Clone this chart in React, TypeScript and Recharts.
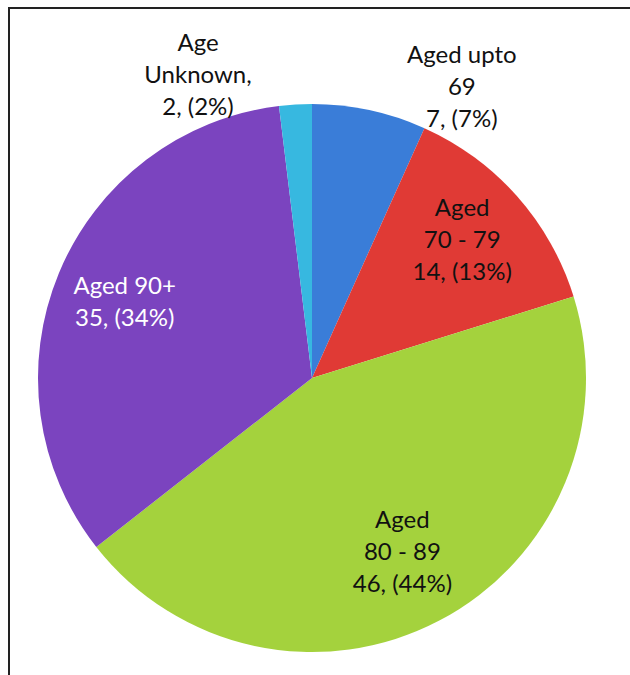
import { PieChart, Pie, Cell } from 'recharts';

const categories = ['Aged upto 69', 'Aged 70 - 79', 'Aged 80 - 89', 'Aged 90+', 'Age Unknown'];
const values = [7, 14, 46, 35, 2];
// label text broken into lines the way the original chart wraps them
const labelLines = [['Aged upto', '69'], ['Aged', '70 - 79'], ['Aged', '80 - 89'], ['Aged 90+'], ['Age', 'Unknown,']];
const colors = ['#3a7dd8', '#e03a35', '#a4d23d', '#7b44bf', '#37b8e0'];
const labelColors = ['#111', '#111', '#111', '#fff', '#111'];

// label placement: fraction of outer radius + angle nudge (deg, clockwise)
const labelRadius = [1.2, 0.75, 0.71, 0.74, 1.19];
const labelNudge = [15, -1.5, 0, 0, -17];

const total = values.reduce((a, b) => a + b, 0);
const data = categories.map((name, i) => ({ name, value: values[i] }));

const RAD = Math.PI / 180;

const renderLabel = (props: any) => {
  const { cx, cy, midAngle, outerRadius, index, value } = props;
  const r = outerRadius * labelRadius[index];
  const angle = midAngle - labelNudge[index];
  const x = cx + r * Math.cos(-angle * RAD);
  const y = cy + r * Math.sin(-angle * RAD);
  const lines = [...labelLines[index], `${value}, (${Math.round((value / total) * 100)}%)`];
  const lh = 32;
  const top = y - ((lines.length - 1) * lh) / 2;
  return (
    <text
      x={x}
      y={top}
      fill={labelColors[index]}
      textAnchor="middle"
      dominantBaseline="central"
      style={{ fontFamily: 'Lato, sans-serif', fontSize: 24 }}
    >
      {lines.map((l, k) => (
        <tspan key={k} x={x} y={top + k * lh}>{l}</tspan>
      ))}
    </text>
  );
};

export default function App() {
  return (
    <>
      <style>{'html,body{margin:0;padding:0;overflow:hidden;background:#fff}'}</style>
      <div
        style={{
          position: 'absolute',
          left: 8,
          top: 7,
          width: 640,
          height: 700,
          borderTop: '2px solid #222',
          borderLeft: '2px solid #222',
        }}
      >
        <PieChart width={620} height={666} margin={{ top: 0, right: 0, bottom: 0, left: 0 }}>
          <Pie
            data={data}
            dataKey="value"
            nameKey="name"
            cx={302}
            cy={369}
            outerRadius={274}
            startAngle={90}
            endAngle={-270}
            stroke="none"
            label={renderLabel}
            labelLine={false}
            isAnimationActive={false}
          >
            {data.map((d, i) => <Cell key={d.name} fill={colors[i]} />)}
          </Pie>
        </PieChart>
      </div>
    </>
  );
}
